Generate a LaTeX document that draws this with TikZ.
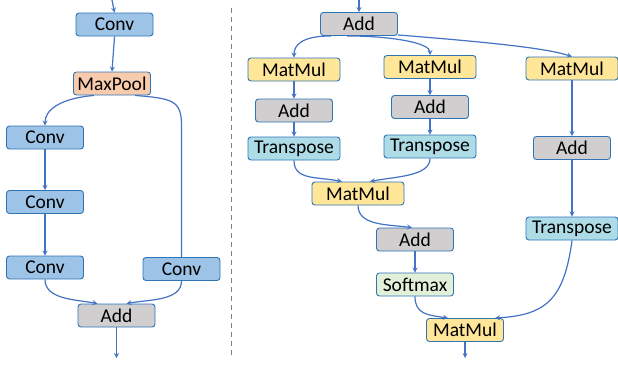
\documentclass[tikz,border=0pt]{standalone}
\usepackage{fontspec}
\setmainfont{Carlito}
\usepackage{tikz}
\definecolor{lineblue}{RGB}{68,114,196}
\definecolor{edgeblue}{RGB}{46,117,182}
\definecolor{convfill}{RGB}{157,195,230}
\definecolor{poolfill}{RGB}{248,203,173}
\definecolor{addfill}{RGB}{208,206,206}
\definecolor{mulfill}{RGB}{255,230,153}
\definecolor{trfill}{RGB}{174,220,230}
\definecolor{smfill}{RGB}{226,240,217}
\tikzstyle{block} = [rectangle, rounded corners=3pt, minimum width=77pt, minimum height=23pt, inner sep=0pt, text centered, draw=edgeblue, line width=0.9pt, font=\fontsize{19.5}{21}\selectfont]
\tikzstyle{conv} = [block, fill=convfill]
\tikzstyle{pool} = [block, fill=poolfill]
\tikzstyle{addop} = [block, fill=addfill]
\tikzstyle{mul} = [block, fill=mulfill]
\tikzstyle{trans} = [block, fill=trfill, minimum width=92pt]
\tikzstyle{soft} = [block, fill=smfill]
\tikzstyle{arrow} = [line width=1.2pt,->,>=stealth, draw=lineblue]
\tikzstyle{line} = [line width=1.2pt, draw=lineblue]

\begin{document}
\begin{tikzpicture}[x=1pt, y=-1pt]
        \useasboundingbox (0,0) rectangle (618,364);
        % conv branch
        \coordinate (inL) at (112,0);
        \node (conv0) [conv] at (114.5,24.5) {Conv};
        \node (pool) [pool] at (112,83.5) {MaxPool};
        \node (conv1) [conv] at (45,137.5) {Conv};
        \node (conv2) [conv] at (45,202) {Conv};
        \node (conv3) [conv] at (45,267.5) {Conv};
        \node (convR) [conv] at (181.5,269) {Conv};
        \node (addL) [addop] at (116.5,315.5) {Add};
        \coordinate (outL) at (116.5,358);
        \draw [arrow] (inL) -- (conv0.north);
        \draw [arrow] (conv0.south) -- (pool.north);
        \draw [arrow] ([xshift=-18pt]pool.south) .. controls +(-35,3) and +(0,-15) .. (conv1.north);
        \draw [line] ([xshift=-16pt]pool.south east) .. controls +(38,3) and +(0,-25) .. (convR.north |- conv1.north) -- (convR.north);
        \draw [arrow] (conv1.south) -- (conv2.north);
        \draw [arrow] (conv2.south) -- (conv3.north);
        \draw [arrow] (conv3.south) .. controls +(0,20) and +(-22,-4) .. ([xshift=-19pt]addL.north);
        \draw [arrow] (convR.south) .. controls +(0,20) and +(22,-4) .. ([xshift=10pt]addL.north);
        \draw [arrow] (addL.south) -- (outL);

        \draw [dashed, dash pattern=on 5pt off 4pt, line width=0.9pt, gray] (231,8) -- (231,358);

        % attention branch
        \coordinate (inR) at (359,0);
        \node (addT) [addop] at (359,24) {Add};
        \node (mm1) [mul, minimum width=92pt] at (294,69.5) {MatMul};
        \node (mm2) [mul, minimum width=92pt] at (430,67) {MatMul};
        \node (mm3) [mul, minimum width=92pt] at (572,68.5) {MatMul};
        \node (add1) [addop] at (294,110.5) {Add};
        \node (add2) [addop] at (430,107) {Add};
        \node (add3) [addop] at (572,148) {Add};
        \node (tr1) [trans] at (294,148.5) {Transpose};
        \node (tr2) [trans] at (430,146.5) {Transpose};
        \node (tr3) [trans] at (572,228.5) {Transpose};
        \node (mmq) [mul, minimum width=92pt] at (358,193.5) {MatMul};
        \node (add4) [addop] at (415,239.5) {Add};
        \node (sm) [soft] at (415,284.5) {Softmax};
        \node (mmf) [mul] at (465,330) {MatMul};
        \coordinate (outR) at (465,358);
        \draw [arrow] (inR) -- (addT.north);
        \draw [arrow] ([xshift=-28pt]addT.south) .. controls +(-30,0) and +(0,-12) .. (mm1.north);
        \draw [arrow] ([xshift=-12pt]addT.south) .. controls +(45,0) and +(0,-12) .. (mm2.north);
        \draw [arrow] ([yshift=1pt]addT.south east) .. controls +(100,8) and +(-25,-8) .. (mm3.north);
        \draw [arrow] (mm1.south) -- (add1.north);
        \draw [arrow] (add1.south) -- (tr1.north);
        \draw [arrow] (mm2.south) -- (add2.north);
        \draw [arrow] (add2.south) -- (tr2.north);
        \draw [arrow] (mm3.south) -- (add3.north);
        \draw [arrow] (add3.south) -- (tr3.north);
        \draw [arrow] (tr1.south) .. controls +(0,20) and +(-25,-5) .. ([xshift=-16pt]mmq.north);
        \draw [arrow] (tr2.south) .. controls +(0,18) and +(25,-5) .. ([xshift=12pt]mmq.north);
        \draw [arrow] (mmq.south) .. controls +(0,20) and +(-25,-3) .. ([xshift=-3pt]add4.north);
        \draw [arrow] (add4.south) -- (sm.north);
        \draw [arrow] (sm.south) .. controls +(0,18) and +(-20,-3) .. ([xshift=-17pt]mmf.north);
        \draw [arrow] (tr3.south) .. controls +(-8,60) and +(50,-3) .. ([xshift=30pt]mmf.north);
        \draw [arrow] (mmf.south) -- (outR);
    \end{tikzpicture}
\end{document}
